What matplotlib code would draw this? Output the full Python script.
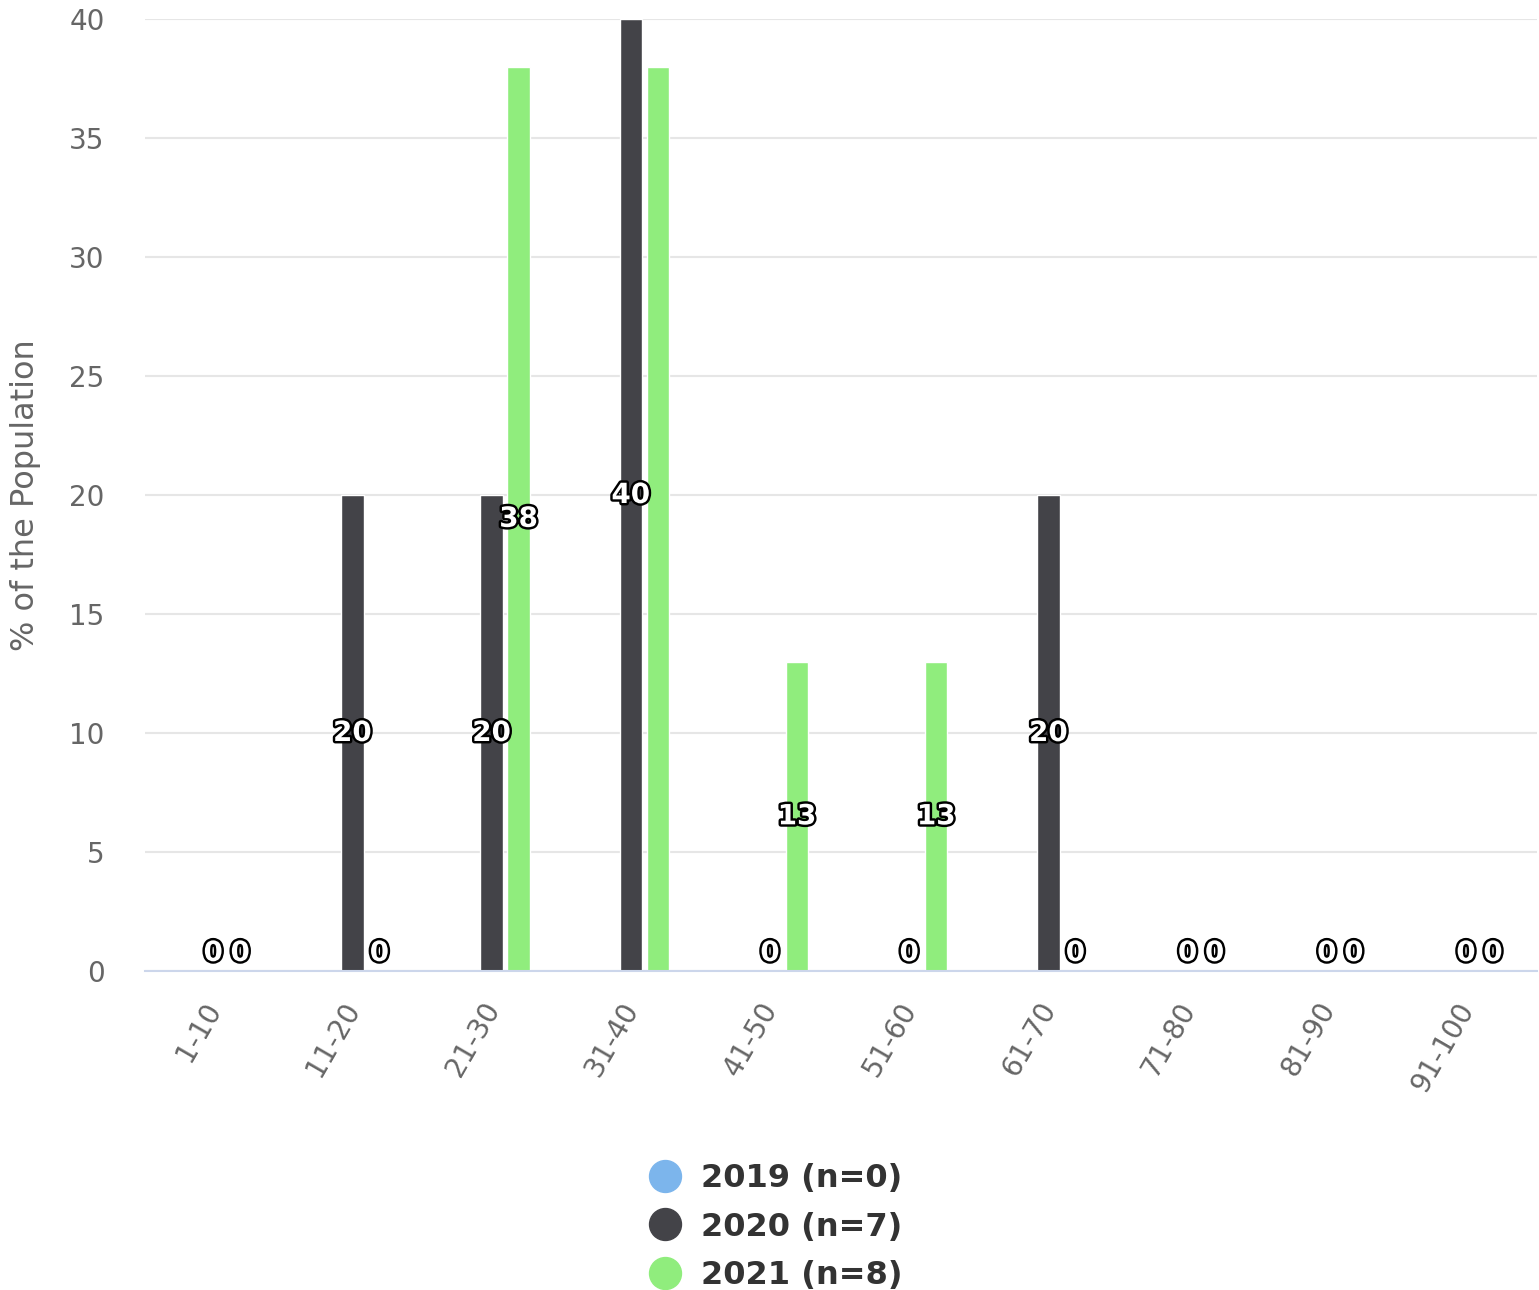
import matplotlib
matplotlib.use("Agg")
import matplotlib.pyplot as plt
import matplotlib.patheffects as pe
from matplotlib.lines import Line2D
import numpy as np

plt.rcParams["font.family"] = ["DejaVu Sans"]

# Age bands and share of population per survey year
categories = ["1-10", "11-20", "21-30", "31-40", "41-50",
              "51-60", "61-70", "71-80", "81-90", "91-100"]
series_names = ["2019 (n=0)", "2020 (n=7)", "2021 (n=8)"]
values_2019 = [None] * 10
values_2020 = [0, 20, 20, 40, 0, 0, 20, 0, 0, 0]
values_2021 = [0, 0, 38, 38, 13, 13, 0, 0, 0, 0]
colors = ["#7cb5ec", "#434348", "#90ed7d"]
y_ticks = [0, 5, 10, 15, 20, 25, 30, 35, 40]
# (series index, category index) of value labels suppressed because they collide
hidden_labels = {(2, 3)}

W, H = 1539, 1290
fig = plt.figure(figsize=(W / 100, H / 100), dpi=100)
ax = fig.add_axes([145 / W, 1 - 971 / H, 1392 / W, 952 / H])

x = np.arange(len(categories))
offsets = [-0.194, -0.01, 0.184]
bar_w = 0.160

label_fx = [pe.withStroke(linewidth=3.5, foreground="black")]
label_kw = dict(ha="center", va="center", color="white", fontsize=20,
                fontweight="bold", path_effects=label_fx, zorder=5)

all_series = [values_2019, values_2020, values_2021]
for si, (vals, off, col) in enumerate(zip(all_series, offsets, colors)):
    for xi, v in zip(x, vals):
        if v is None:
            continue
        ax.bar(xi + off, v, width=bar_w, color=col, edgecolor="white",
               linewidth=1.0, zorder=3)
        if (si, xi) in hidden_labels:
            continue
        if v == 0:
            ax.annotate(f"{v:.0f}", (xi + off, 0), xytext=(0, 13),
                        textcoords="offset points", **label_kw)
        else:
            ax.text(xi + off, v / 2, f"{v:.0f}", **label_kw)

ax.set_xlim(-0.5, len(categories) - 0.5)
ax.set_ylim(0, 40)
ax.set_yticks(y_ticks)
ax.set_yticklabels([str(t) for t in y_ticks])
ax.set_xticks(x)
ax.set_xticklabels(categories, rotation=60, ha="right", va="center",
                   rotation_mode="anchor")

ax.grid(axis="y", color="#e6e6e6", linewidth=1.5, zorder=0)
ax.set_axisbelow(True)
for side in ["top", "right", "left"]:
    ax.spines[side].set_visible(False)
ax.spines["bottom"].set_color("#ccd6eb")
ax.spines["bottom"].set_linewidth(1.5)
ax.spines["bottom"].set_zorder(4)

ax.tick_params(axis="y", length=0, pad=29, labelsize=20, labelcolor="#666666")
ax.tick_params(axis="x", length=0, pad=24, labelsize=20, labelcolor="#666666")

ax.set_ylabel("% of the Population", fontsize=23, color="#666666", va="center")
ax.yaxis.set_label_coords(-0.0855, 0.5)

handles = [Line2D([0], [0], marker="o", linestyle="none", markersize=23,
                  markerfacecolor=c, markeredgecolor=c) for c in colors]
leg = fig.legend(handles, series_names, loc="upper center",
                 bbox_to_anchor=(776 / W, 1 - 1147 / H), frameon=False,
                 prop={"size": 23, "weight": "bold"}, labelcolor="#333333",
                 handlelength=1.0, handletextpad=0.625, labelspacing=0.55,
                 borderpad=0)

fig.savefig("out.png", dpi=100)
